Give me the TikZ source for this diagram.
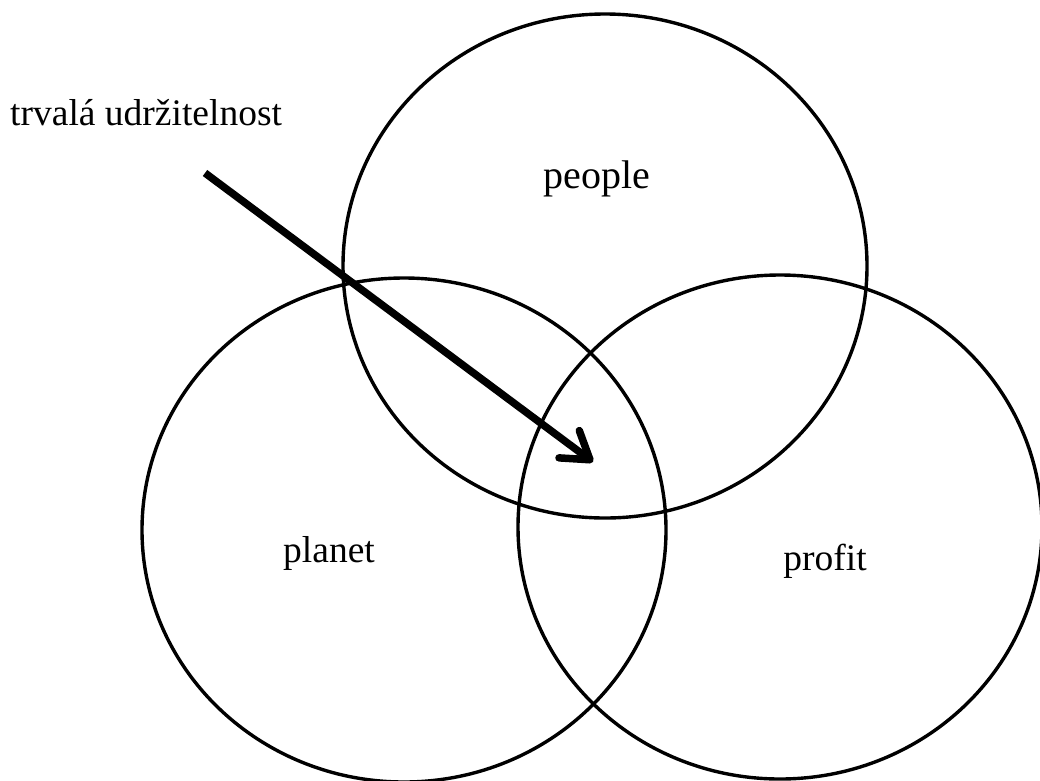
\documentclass[tikz,border=0pt]{standalone}
\usepackage{fontspec}
\setmainfont{Liberation Serif}
\usetikzlibrary{shapes.geometric,arrows.meta}
\begin{document}
\begin{tikzpicture}[x=1pt,y=-1pt,
  ring/.style={draw=black,line width=3.4pt,ellipse,inner sep=0pt,minimum width=524pt,minimum height=504pt},
  lbl/.style={inner sep=0pt,anchor=base,font=\fontsize{37.5}{45}\selectfont},
  bigarrow/.style={line width=7.5pt,-{Straight Barb[length=26pt,width=34pt,line cap=round,line join=round]}}]
\useasboundingbox (0,0) rectangle (1040,780);
\node[ring] (people) at (605,266) {};
\node[ring] (planet) at (404,530) {};
\node[ring] (profit) at (780,527) {};
\node[lbl,font=\fontsize{40}{48}\selectfont] (tpeople) at (597,188) {people};
\node[lbl] (tplanet) at (329,562) {planet};
\node[lbl] (tprofit) at (825,570) {profit};
\node[lbl,anchor=base west] (title) at (10,125) {trvalá udržitelnost};
\coordinate (astart) at (205,173);
\coordinate (aend) at (593,462);
\draw[bigarrow] (astart) -- (aend);
\end{tikzpicture}
\end{document}
